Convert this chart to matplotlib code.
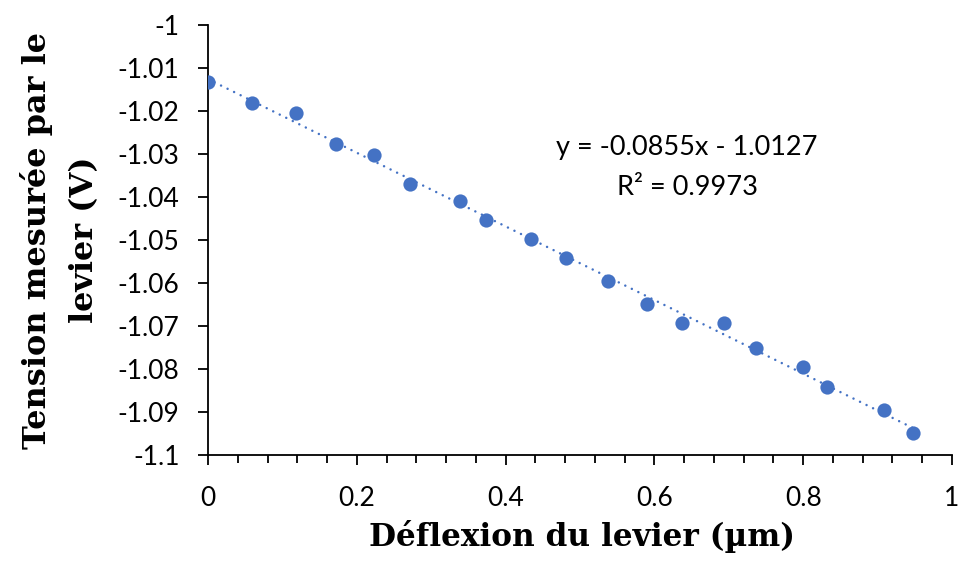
import numpy as np
import matplotlib
matplotlib.use("Agg")
import matplotlib.pyplot as plt
from matplotlib.ticker import MultipleLocator, FuncFormatter

deflexion = [0.0, 0.059, 0.118, 0.172, 0.223, 0.272, 0.339, 0.374, 0.434, 0.481,
             0.538, 0.590, 0.637, 0.694, 0.737, 0.800, 0.832, 0.908, 0.948]
tension = [-1.0132, -1.0181, -1.0205, -1.0277, -1.0302, -1.0370, -1.0409, -1.0453,
           -1.0498, -1.0542, -1.0595, -1.0649, -1.0693, -1.0693, -1.0751, -1.0795,
           -1.0842, -1.0895, -1.0949]
eq_text = "y = -0.0855x - 1.0127"
r2_text = "R² = 0.9973"

blue = "#4472C4"
tick_font = "Lato"
label_font = "DejaVu Serif"

fig = plt.figure(figsize=(9.59, 5.63), dpi=100)
ax = fig.add_axes([208 / 959, 108 / 563, 744 / 959, 430 / 563])

# linear trendline
a, b = np.polyfit(deflexion, tension, 1)
xs = np.array([min(deflexion), max(deflexion)])
ax.plot(xs, a * xs + b, color=blue, lw=1.8, linestyle=(0, (0.01, 2.9)),
        dash_capstyle="round", zorder=2)
ax.scatter(deflexion, tension, s=105, color=blue, zorder=3, linewidths=0)

ax.set_xlim(0, 1)
ax.set_ylim(-1.1, -1.0)
ax.xaxis.set_major_locator(MultipleLocator(0.2))
ax.xaxis.set_minor_locator(MultipleLocator(0.04))
ax.yaxis.set_major_locator(MultipleLocator(0.01))
fmt = FuncFormatter(lambda v, p: ("%.2f" % v).rstrip("0").rstrip(".") if abs(v) > 1e-9 else "0")
ax.xaxis.set_major_formatter(fmt)
ax.yaxis.set_major_formatter(fmt)

for s in ["top", "right"]:
    ax.spines[s].set_visible(False)
for s in ["left", "bottom"]:
    ax.spines[s].set_linewidth(1.3)
ax.tick_params(axis="both", which="major", direction="out", length=7.5, width=1.3,
               labelsize=19)
ax.tick_params(axis="x", which="major", pad=15)
ax.tick_params(axis="y", which="major", pad=13)
ax.tick_params(axis="x", which="minor", direction="out", length=5.5, width=1.3)
for lab in ax.get_xticklabels() + ax.get_yticklabels():
    lab.set_fontfamily(tick_font)

ax.text(0.644, -1.0286, eq_text, ha="center", va="center", fontsize=19.5, family=tick_font)
ax.text(0.644, -1.0377, r2_text, ha="center", va="center", fontsize=19.5, family=tick_font)

fig.text(0.6064, 0.047, "Déflexion du levier (µm)", ha="center", va="center",
         fontsize=22.4, family=label_font, fontweight="bold")
fig.text(0.0625, 0.5737, "Tension mesurée par le\nlevier (V)", ha="center", va="center",
         rotation=90, fontsize=23, family=label_font, fontweight="bold",
         multialignment="center", linespacing=1.7)

fig.savefig("out.png", dpi=100)
